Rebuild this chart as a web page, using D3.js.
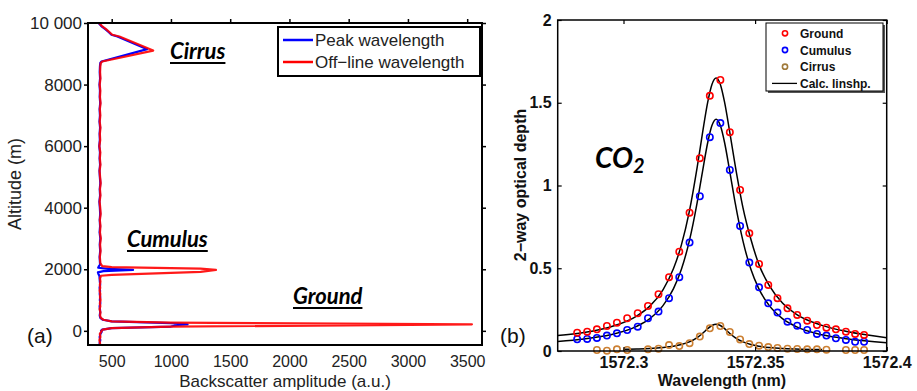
<!DOCTYPE html>
<html>
<head>
<meta charset="utf-8">
<script src="https://cdn.jsdelivr.net/npm/d3@7"></script>
<style>
body { margin: 0; background: #fff; }
svg { display: block; }
.axisA text { font-family: Arial, "Liberation Sans", sans-serif; font-size: 17px; fill: #222; }
.axisA.bottom text { font-size: 16px; }
.axisB text { font-family: Arial, "Liberation Sans", sans-serif; font-size: 16px; font-weight: bold; fill: #111; }
.note { font-family: Lato, "Open Sans", sans-serif; font-weight: bold; font-style: italic; fill: #000; }
</style>
</head>
<body>
<svg width="917" height="391"></svg>
<script>

// ---------- panel (a): backscatter profiles ----------
var altTicks = [0, 2000, 4000, 6000, 8000, 10000];
var ampTicks = [500, 1000, 1500, 2000, 2500, 3000, 3500];

// off-line wavelength, [altitude (m), amplitude (a.u.)]
var offline = [
  [-460,398],[-400,402],[-300,396],[-200,405],[-100,400],[-50,408],[0,415],[40,425],
  [90,500],[135,1000],[212,3540],[265,1000],[310,500],[360,430],[420,408],[500,402],
  [600,405],[700,398],[800,404],[900,400],[1000,406],[1100,401],[1200,404],[1300,398],
  [1400,403],[1500,400],[1600,405],[1700,401],[1790,410],[1818,500],[1915,1250],[1980,1380],
  [2023,1250],[2067,500],[2100,420],[2200,404],[2400,400],[2600,406],[2800,402],[3000,408],
  [3200,401],[3400,405],[3600,400],[3800,407],[4000,403],[4200,398],[4400,405],[4600,401],
  [4800,407],[5000,402],[5200,398],[5400,405],[5600,400],[5800,404],[6000,396],[6200,403],
  [6400,400],[6600,405],[6800,399],[7000,404],[7200,400],[7400,406],[7600,401],[7800,404],
  [8000,399],[8200,405],[8400,402],[8600,404],[8700,408],[8750,420],[9105,850],[9560,565],
  [9620,505],[9700,482],[9800,452],[9900,418],[10000,392]
];

// peak wavelength
var peakline = [
  [-460,402],[-400,398],[-300,404],[-200,398],[-100,405],[-30,416],[0,410],[40,420],
  [90,500],[140,1000],[190,1060],[212,1140],[235,1060],[250,1000],[310,500],[360,425],
  [420,404],[500,399],[600,403],[700,401],[800,398],[900,404],[1000,400],[1100,403],
  [1200,399],[1300,402],[1400,398],[1500,403],[1600,400],[1700,398],[1790,396],[1850,388],
  [1900,384],[1940,430],[1980,680],[2010,470],[2050,386],[2100,392],[2150,402],[2400,398],
  [2600,403],[2800,399],[3000,404],[3200,398],[3400,402],[3600,399],[3800,403],[4000,400],
  [4200,396],[4400,402],[4600,399],[4800,404],[5000,400],[5200,397],[5400,402],[5600,398],
  [5800,401],[6000,395],[6200,400],[6400,398],[6600,402],[6800,397],[7000,401],[7200,398],
  [7400,403],[7600,399],[7800,401],[8000,397],[8200,402],[8400,399],[8600,401],[8700,404],
  [8750,414],[9150,800],[9560,548],[9620,498],[9700,476],[9800,446],[9900,412],[10000,390]
];

// ---------- panel (b): optical depth ----------
var wlTicks = [1572.3, 1572.35, 1572.4];
var odTicks = [0, 0.5, 1, 1.5, 2];

var wavelength = [1572.2824,1572.2862,1572.2899,1572.2937,1572.2975,1572.3014,1572.3054,1572.3093,
  1572.3133,1572.3173,1572.3212,1572.3251,1572.3290,1572.3328,1572.3368,1572.3404,1572.3443,
  1572.3478,1572.3515,1572.3550,1572.3585,1572.3623,1572.3660,1572.3698,1572.3735,1572.3771,
  1572.3807,1572.3845,1572.3880,1572.3914];
var ground = [0.111,0.117,0.131,0.151,0.171,0.198,0.228,0.272,0.343,0.446,0.600,0.836,1.165,
  1.542,1.638,1.322,0.973,0.711,0.526,0.399,0.319,0.258,0.218,0.183,0.157,0.141,0.131,0.117,0.103,0.097];
var cumulus = [0.071,0.073,0.079,0.093,0.107,0.127,0.147,0.198,0.238,0.319,0.446,0.655,0.935,
  1.292,1.377,1.094,0.756,0.534,0.385,0.288,0.232,0.177,0.153,0.127,0.103,0.093,0.077,0.067,0.056,0.056];
var cirrus = [null,null,0.006,0.002,0.010,0.006,null,0.010,0.014,0.036,0.030,0.047,0.087,
  0.137,0.151,0.115,0.070,0.042,0.032,0.024,0.018,0.014,0.012,0.010,0.010,0.008,null,0.006,0.006,0.006];

// calculated lineshapes
var fitWl = [1572.275,1572.285,1572.295,1572.305,1572.310,1572.315,1572.319,1572.322,1572.325,
  1572.328,1572.330,1572.332,1572.3336,1572.3352,1572.3368,1572.3384,1572.3404,1572.3424,
  1572.3454,1572.3484,1572.3514,1572.3554,1572.3604,1572.3654,1572.3754,1572.3854,1572.400];
var fitGround = [0.094,0.112,0.145,0.211,0.271,0.370,0.498,0.641,0.842,1.111,1.315,1.504,1.611,
  1.650,1.611,1.504,1.320,1.125,0.865,0.675,0.525,0.395,0.290,0.225,0.155,0.116,0.080];
var fitCumulus = [0.058,0.073,0.098,0.149,0.196,0.274,0.377,0.494,0.664,0.898,1.083,1.260,1.362,
  1.400,1.362,1.260,1.083,0.898,0.664,0.494,0.377,0.274,0.196,0.149,0.098,0.073,0.050];
var fitWlCirrus = [1572.300,1572.305,1572.310,1572.315,1572.319,1572.322,1572.325,1572.328,
  1572.330,1572.332,1572.3336,1572.3352,1572.3368,1572.3384,1572.3404,1572.3424,1572.3454,
  1572.3484,1572.3514,1572.3554,1572.3604,1572.3654,1572.3754];
var fitCirrus = [0.010,0.012,0.015,0.021,0.029,0.039,0.055,0.081,0.106,0.135,0.154,0.162,
  0.154,0.135,0.106,0.081,0.055,0.039,0.029,0.021,0.015,0.012,0.009];

var svg = d3.select("svg");

// ================= panel (a) =================
var xA = d3.scaleLinear().domain([300, 3625]).range([88, 482]),
    yA = d3.scaleLinear().domain([-460, 10000]).range([345, 23]);

var gA = svg.append("g");

var profile = d3.line()
    .x(function(d) { return xA(d[1]); })
    .y(function(d) { return yA(d[0]); });

gA.append("path").datum(peakline)
    .attr("fill", "none").attr("stroke", "#0000ff").attr("stroke-width", 2.2)
    .attr("stroke-linejoin", "round")
    .attr("d", profile);
gA.append("path").datum(offline)
    .attr("fill", "none").attr("stroke", "#ff0000").attr("stroke-width", 2.2)
    .attr("stroke-opacity", 0.9).attr("stroke-linejoin", "round")
    .attr("d", profile);

gA.append("g").attr("class", "axisA")
    .attr("transform", "translate(88,0)")
    .call(d3.axisLeft(yA).tickValues(altTicks).tickSize(4).tickPadding(2)
      .tickFormat(function(d) { return d === 10000 ? "10 000" : String(d); }))
    .call(function(g) { g.select(".domain").remove(); });
gA.append("g").attr("class", "axisA")
    .attr("transform", "translate(482,0)")
    .call(d3.axisRight(yA).tickValues(altTicks).tickSize(4).tickFormat(""))
    .call(function(g) { g.select(".domain").remove(); });
gA.append("g").attr("class", "axisA")
    .attr("transform", "translate(0,23)")
    .call(d3.axisTop(xA).tickValues(ampTicks).tickSize(4).tickFormat(""))
    .call(function(g) { g.select(".domain").remove(); });
gA.append("g").attr("class", "axisA bottom")
    .attr("transform", "translate(0,345)")
    .call(d3.axisBottom(xA).tickValues(ampTicks).tickSize(0).tickPadding(11)
      .tickFormat(function(d) { return String(d); }))
    .call(function(g) { g.select(".domain").remove(); });
gA.selectAll(".tick line").attr("stroke", "#000").attr("stroke-width", 1.5);

gA.append("rect")
    .attr("x", 88).attr("y", 23).attr("width", 394).attr("height", 322)
    .attr("fill", "none").attr("stroke", "#000").attr("stroke-width", 2);

gA.append("text")
    .attr("transform", "translate(21,184) rotate(-90)")
    .attr("text-anchor", "middle")
    .style("font-family", "Arial, 'Liberation Sans'").style("font-size", "18px").style("fill", "#222")
    .text("Altitude (m)");
gA.append("text")
    .attr("x", 285).attr("y", 387).attr("text-anchor", "middle")
    .style("font-family", "Arial, 'Liberation Sans'").style("font-size", "17px").style("fill", "#222")
    .text("Backscatter amplitude (a.u.)");
gA.append("text")
    .attr("x", 27).attr("y", 343)
    .style("font-family", "Arial, 'Liberation Sans'").style("font-size", "21px").style("fill", "#111")
    .text("(a)");

// legend (a)
var legA = gA.append("g");
legA.append("rect")
    .attr("x", 278).attr("y", 27).attr("width", 202).attr("height", 49)
    .attr("fill", "#fff").attr("stroke", "#000").attr("stroke-width", 2);
[["Peak wavelength", "#0000ff", 40], ["Off\u2212line wavelength", "#ff0000", 62]].forEach(function(e) {
  legA.append("line")
      .attr("x1", 283).attr("x2", 313).attr("y1", e[2]).attr("y2", e[2])
      .attr("stroke", e[1]).attr("stroke-width", 2.5);
  legA.append("text")
      .attr("x", 315).attr("y", e[2] + 6)
      .style("font-family", "Arial, 'Liberation Sans'").style("font-size", "17px").style("fill", "#222")
      .text(e[0]);
});

// underlined cloud labels
function note(label, x, y) {
  var t = gA.append("text").attr("class", "note")
      .attr("x", x).attr("y", y).style("font-size", "22px").text(label);
  var w = t.node().getComputedTextLength();
  gA.append("line")
      .attr("x1", x).attr("x2", x + w).attr("y1", y + 4).attr("y2", y + 4)
      .attr("stroke", "#000").attr("stroke-width", 2);
}
note("Cirrus", 170, 59);
note("Cumulus", 127, 247);
note("Ground", 293, 304);

// ================= panel (b) =================
var xB = d3.scaleLinear().domain([1572.275, 1572.4]).range([557.7, 886.7]),
    yB = d3.scaleLinear().domain([0, 2]).range([351, 20]);

var gB = svg.append("g");

var fitLine = d3.line()
    .curve(d3.curveMonotoneX)
    .x(function(d) { return xB(d[0]); })
    .y(function(d) { return yB(d[1]); });

[[fitWl, fitGround], [fitWl, fitCumulus], [fitWlCirrus, fitCirrus]].forEach(function(f) {
  gB.append("path")
      .datum(f[0].map(function(w, i) { return [w, f[1][i]]; }))
      .attr("fill", "none").attr("stroke", "#000").attr("stroke-width", 1.5)
      .attr("d", fitLine);
});

function addMarkers(values, color) {
  gB.append("g").selectAll("circle")
      .data(wavelength.map(function(w, i) { return [w, values[i]]; })
        .filter(function(d) { return d[1] !== null; }))
      .enter().append("circle")
      .attr("cx", function(d) { return xB(d[0]); })
      .attr("cy", function(d) { return yB(d[1]); })
      .attr("r", 3.2)
      .attr("fill", "none")
      .attr("stroke", color)
      .attr("stroke-width", 1.6);
}
addMarkers(cirrus, "#cc8033");
addMarkers(cumulus, "#0000ff");
addMarkers(ground, "#ff0000");

gB.append("g").attr("class", "axisB")
    .attr("transform", "translate(557.7,0)")
    .call(d3.axisLeft(yB).tickValues(odTicks).tickSize(-4).tickPadding(6)
      .tickFormat(function(d) { return String(d); }))
    .call(function(g) { g.select(".domain").remove(); });
gB.append("g").attr("class", "axisB")
    .attr("transform", "translate(886.7,0)")
    .call(d3.axisRight(yB).tickValues(odTicks).tickSize(-4).tickFormat(""))
    .call(function(g) { g.select(".domain").remove(); });
gB.append("g").attr("class", "axisB")
    .attr("transform", "translate(0,351)")
    .call(d3.axisBottom(xB).tickValues(wlTicks).tickSize(-4).tickPadding(6)
      .tickFormat(function(d) { return d3.format(".5~f")(d); }))
    .call(function(g) { g.select(".domain").remove(); });
gB.append("g").attr("class", "axisB")
    .attr("transform", "translate(0,20)")
    .call(d3.axisTop(xB).tickValues(wlTicks).tickSize(-4).tickFormat(""))
    .call(function(g) { g.select(".domain").remove(); });
gB.selectAll(".tick line").attr("stroke", "#000").attr("stroke-width", 1.2);

gB.append("rect")
    .attr("x", 557.7).attr("y", 20).attr("width", 329).attr("height", 331)
    .attr("fill", "none").attr("stroke", "#000").attr("stroke-width", 1.5);

gB.append("text")
    .attr("transform", "translate(526,185) rotate(-90)")
    .attr("text-anchor", "middle")
    .style("font-family", "Arial, 'Liberation Sans'").style("font-size", "16px")
    .style("font-weight", "bold").style("fill", "#111")
    .text("2\u2212way optical depth");
gB.append("text")
    .attr("x", 722).attr("y", 386).attr("text-anchor", "middle")
    .style("font-family", "Arial, 'Liberation Sans'").style("font-size", "16px")
    .style("font-weight", "bold").style("fill", "#111")
    .text("Wavelength (nm)");
gB.append("text")
    .attr("x", 500).attr("y", 343)
    .style("font-family", "Arial, 'Liberation Sans'").style("font-size", "21px").style("fill", "#111")
    .text("(b)");

var co2 = gB.append("text").attr("class", "note")
    .attr("x", 595).attr("y", 168).style("font-size", "28px");
co2.append("tspan").text("CO");
co2.append("tspan").attr("dy", 5).style("font-size", "20px").text("2");

// legend (b)
var legB = gB.append("g");
legB.append("rect")
    .attr("x", 768).attr("y", 25).attr("width", 117).attr("height", 68)
    .attr("fill", "#555");
legB.append("rect")
    .attr("x", 766).attr("y", 23).attr("width", 117).attr("height", 68)
    .attr("fill", "#fff").attr("stroke", "#000").attr("stroke-width", 1);
var legItems = [["Ground", "#ff0000"], ["Cumulus", "#0000ff"], ["Cirrus", "#a07a3a"], ["Calc. linshp.", null]];
legItems.forEach(function(e, i) {
  var y = 33.3 + i * 16.7;
  if (e[1]) {
    legB.append("circle").attr("cx", 785).attr("cy", y).attr("r", 2.6)
        .attr("fill", "none").attr("stroke", e[1]).attr("stroke-width", 1.6);
  } else {
    legB.append("line").attr("x1", 772).attr("x2", 797).attr("y1", y).attr("y2", y)
        .attr("stroke", "#000").attr("stroke-width", 1.3);
  }
  legB.append("text")
      .attr("x", 800).attr("y", y + 4.5)
      .style("font-family", "Arial, 'Liberation Sans'").style("font-size", "12px")
      .style("font-weight", "bold").style("fill", "#111")
      .text(e[0]);
});

</script>
</body>
</html>
